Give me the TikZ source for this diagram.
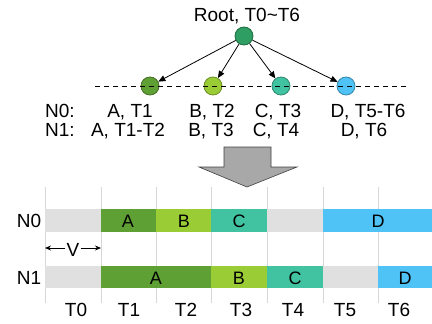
\documentclass[tikz,border=0pt]{standalone}
\usepackage{fontspec}
\setmainfont{Liberation Sans}
\usetikzlibrary{arrows.meta}
\definecolor{cA}{HTML}{5FA034}
\definecolor{cB}{HTML}{9ACC35}
\definecolor{cC}{HTML}{41C2A0}
\definecolor{cD}{HTML}{4FC2F6}
\definecolor{cR}{HTML}{2E9E63}
\definecolor{cG}{HTML}{E0E0E0}
\definecolor{cGrid}{HTML}{D6D6D6}
\definecolor{cArrow}{HTML}{A8A8A8}
\tikzset{
  lab/.style={font=\fontsize{19}{19}\selectfont, anchor=base, inner sep=0pt},
  barlab/.style={font=\fontsize{18}{18}\selectfont, anchor=base, inner sep=0pt},
  dot/.style={circle, draw=#1!70!black, fill=#1, minimum size=18pt, inner sep=0pt, line width=0.8pt},
  link/.style={-{Triangle[length=7pt,width=6pt]}, line width=0.8pt, black},
  gridline/.style={cGrid, line width=0.7pt},
  dashline/.style={dash pattern=on 5pt off 4pt, line width=0.8pt},
}
\begin{document}
\begin{tikzpicture}[x=1pt,y=-1pt]
\useasboundingbox (0,0) rectangle (432,324);
% tree
\node[lab] (rootlab) at (247,21) {Root, T0\textasciitilde T6};
\coordinate (dl) at (95,86);
\coordinate (dr) at (408,86);
\node[dot=cR] (root) at (244,36) {};
\node[dot=cA] (na) at (150,86) {};
\node[dot=cB] (nb) at (213,86) {};
\node[dot=cC] (nc) at (281,86) {};
\node[dot=cD] (nd) at (346,86) {};
\draw[dashline] (dl) -- (dr);
\draw[link] (root) -- (na);
\draw[link] (root) -- (nb);
\draw[link] (root) -- (nc);
\draw[link] (root) -- (nd);
% rows
\node[lab, anchor=base west] (r0) at (45,117) {N0:};
\node[lab, anchor=base west] (r1) at (45,136) {N1:};
\node[lab] (a0) at (130,117) {A, T1};
\node[lab] (a1) at (128,136) {A, T1-T2};
\node[lab] (b0) at (212,117) {B, T2};
\node[lab] (b1) at (211,136) {B, T3};
\node[lab] (c0) at (278,117) {C, T3};
\node[lab] (c1) at (276,136) {C, T4};
\node[lab] (d0) at (368,117) {D, T5-T6};
\node[lab] (d1) at (364,136) {D, T6};
% big arrow
\filldraw[fill=cArrow, draw=black!75, line width=0.6pt]
  (224,147) -- (271,147) -- (271,167) -- (297,167) -- (247,187) -- (199,167) -- (224,167) -- cycle;
% grid lines
\foreach \x in {45,101,156,211,267,323,378}
  \draw[gridline] (\x,187) -- (\x,303);
% N0 bar
\fill[cG] (45,209) rectangle (101,232);
\fill[cA] (101,209) rectangle (156,232);
\fill[cB] (156,209) rectangle (211,232);
\fill[cC] (211,209) rectangle (267,232);
\fill[cG] (267,209) rectangle (323,232);
\fill[cD] (323,209) rectangle (432,232);
% N1 bar
\fill[cG] (45,266) rectangle (101,288);
\fill[cA] (101,266) rectangle (211,288);
\fill[cB] (211,266) rectangle (267,288);
\fill[cC] (267,266) rectangle (323,288);
\fill[cG] (323,266) rectangle (378,288);
\fill[cD] (378,266) rectangle (432,288);
% bar labels
\node[lab] (n0) at (29,227) {N0};
\node[lab] (n1) at (29,284) {N1};
\node[barlab] (ba0) at (128,227) {A};
\node[barlab] (bb0) at (184,227) {B};
\node[barlab] (bc0) at (239,227) {C};
\node[barlab] (bd0) at (378,227) {D};
\node[barlab] (ba1) at (156,284) {A};
\node[barlab] (bb1) at (239,284) {B};
\node[barlab] (bc1) at (295,284) {C};
\node[barlab] (bd1) at (405,284) {D};
% V arrow
\node[lab] (vlab) at (73,256) {V};
\coordinate (vl) at (45,248);
\coordinate (vr) at (101,248);
\draw[-{Stealth[length=6pt,width=5pt]}, line width=0.8pt] (vlab.west |- vl) ++(-1,0) -- (vl);
\draw[-{Stealth[length=6pt,width=5pt]}, line width=0.8pt] (vlab.east |- vr) ++(1,0) -- (vr);
% time labels
\node[lab] (t0) at (76,316) {T0};
\node[lab] (t1) at (129,316) {T1};
\node[lab] (t2) at (186,316) {T2};
\node[lab] (t3) at (241,316) {T3};
\node[lab] (t4) at (293,316) {T4};
\node[lab] (t5) at (345,316) {T5};
\node[lab] (t6) at (399,316) {T6};
\end{tikzpicture}
\end{document}
